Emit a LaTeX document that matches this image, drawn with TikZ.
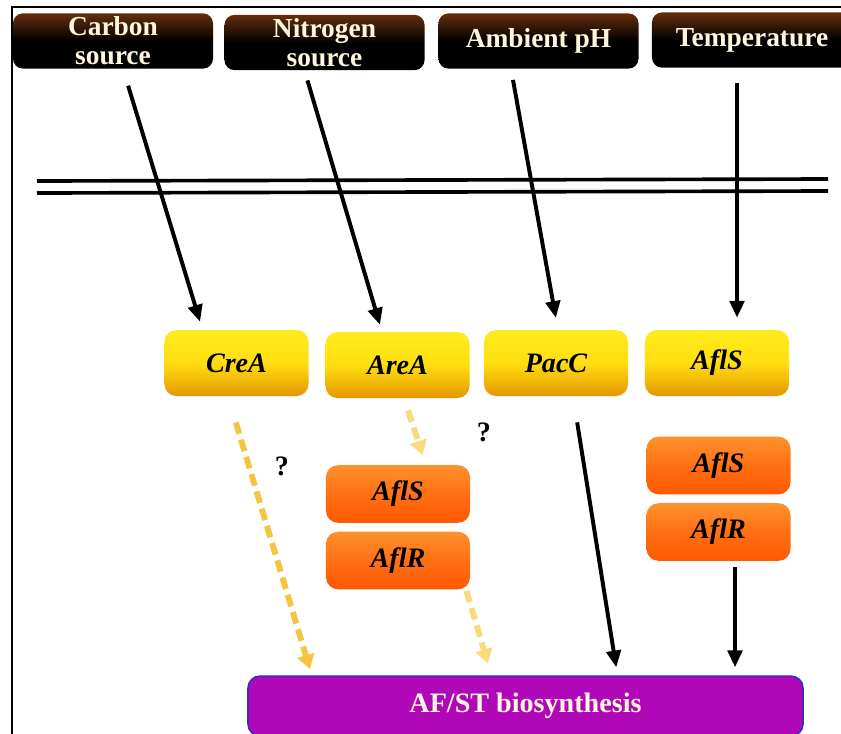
\documentclass[tikz,border=0pt]{standalone}
\usepackage{fontspec}
\setmainfont{Liberation Serif}
\usetikzlibrary{arrows.meta,calc}
\definecolor{cream}{RGB}{255,246,222}
\definecolor{darktop}{RGB}{100,46,12}
\definecolor{ytop}{RGB}{255,236,30}
\definecolor{ymid}{RGB}{255,222,16}
\definecolor{ybot}{RGB}{228,150,0}
\definecolor{otop}{RGB}{255,145,45}
\definecolor{omid}{RGB}{255,112,20}
\definecolor{obot}{RGB}{255,88,0}
\definecolor{purp}{RGB}{176,8,184}
\definecolor{purpedge}{RGB}{40,50,190}
\definecolor{dgold}{RGB}{245,197,66}
\definecolor{dpale}{RGB}{250,218,125}

\begin{document}
\begin{tikzpicture}[x=0.025cm, y=-0.025cm,
  ext/.style={rounded corners=0.25cm, top color=darktop, bottom color=black, middle color=black,
    text=cream, font=\fontsize{19.5}{20.5}\selectfont\bfseries, align=center,
    minimum width=5cm, minimum height=1.38cm, inner sep=0pt},
  reg/.style={rounded corners=0.3cm, top color=ytop, bottom color=ybot, middle color=ymid,
    font=\fontsize{20}{20}\selectfont\bfseries\itshape,
    minimum width=3.6cm, minimum height=1.65cm, inner sep=0pt},
  afl/.style={reg, top color=otop, bottom color=obot, middle color=omid, minimum height=1.44cm},
  prod/.style={rounded corners=0.3cm, fill=purp, draw=purpedge, line width=1pt, text=cream,
    font=\fontsize{20}{20}\selectfont\bfseries, minimum width=13.875cm, minimum height=1.5cm},
  qm/.style={font=\fontsize{20}{20}\selectfont\bfseries},
  arr/.style={line width=2.8pt, -{Triangle[length=0.42cm,width=0.36cm]}},
  dsh/.style={line width=4.2pt, dash pattern=on 0.3cm off 0.15cm, -{Triangle[length=0.36cm,width=0.42cm]}},
  mem/.style={line width=2.6pt}]
\useasboundingbox (0,0) rectangle (841,733);
\clip (0,0) rectangle (841,733);
\fill[white] (0,0) rectangle (841,733);
\draw[line width=1.5pt] (12,760) -- (12,7) -- (860,7);
\node[ext] (cs) at (113,41) {Carbon\\source};
\node[ext] (ns) at (324.5,42.5) {Nitrogen\\source};
\node[ext] (ph) at (538.5,41) {Ambient pH};
\node[ext] (tp) at (752,40) {Temperature};
\draw[mem] (37,181) -- (828,179); \draw[mem] (37,193) -- (828,191);
\node[reg] (crea) at (236.5,363) {CreA};
\node[reg] (area) at (397.5,365) {AreA};
\node[reg] (pacc) at (556,363) {PacC};
\node[reg] (afls) at (717,363) {AflS};
\node[afl] (afls2) at (398,494) {AflS};
\node[afl] (aflr2) at (398,560.5) {AflR};
\node[afl] (afls3) at (718.5,465.5) {AflS};
\node[afl] (aflr3) at (718.5,532) {AflR};
\node[prod] (bio) at (525.5,706) {AF/ST biosynthesis};
\node[qm] (q1) at (282,466) {?};
\node[qm] (q2) at (484,432) {?};
\draw[arr, shorten <=0.44cm, shorten >=0.21cm] ($(cs.south)+(10,0)$) -- ($(crea.north)+(-34,0)$);
\draw[arr, shorten <=0.26cm, shorten >=0.18cm] ($(ns.south)+(-20,0)$) -- ($(area.north)+(-15.5,0)$);
\draw[arr, shorten <=0.28cm, shorten >=0.3cm] ($(ph.south)+(-27.5,0)$) -- ($(pacc.north)+(2,0)$);
\draw[arr, shorten <=0.375cm, shorten >=0.3cm] ($(tp.south)+(-15,0)$) -- ($(afls.north)+(20,0)$);
\draw[dsh, dgold, shorten <=0.68cm, shorten >=0.16cm] ($(crea.south)+(-8.5,0)$) -- ($(bio.north)+(-213.7,0)$);
\draw[dsh, dpale, shorten <=0.32cm, shorten >=0.26cm] ($(area.south)+(6.5,0)$) -- ($(afls2.north)+(28,0)$);
\draw[dsh, dpale, shorten <=0.03cm, shorten >=0.31cm] ($(aflr2.south)+(68,0)$) -- ($(bio.north)+(-34,0)$);
\draw[arr, shorten <=0.66cm, shorten >=0.2cm] ($(pacc.south)+(17,0)$) -- ($(bio.north)+(92,0)$);
\draw[arr, shorten <=0.15cm, shorten >=0.2cm] ($(aflr3.south)+(16.5,0)$) -- ($(bio.north)+(209.5,0)$);
\end{tikzpicture}
\end{document}
